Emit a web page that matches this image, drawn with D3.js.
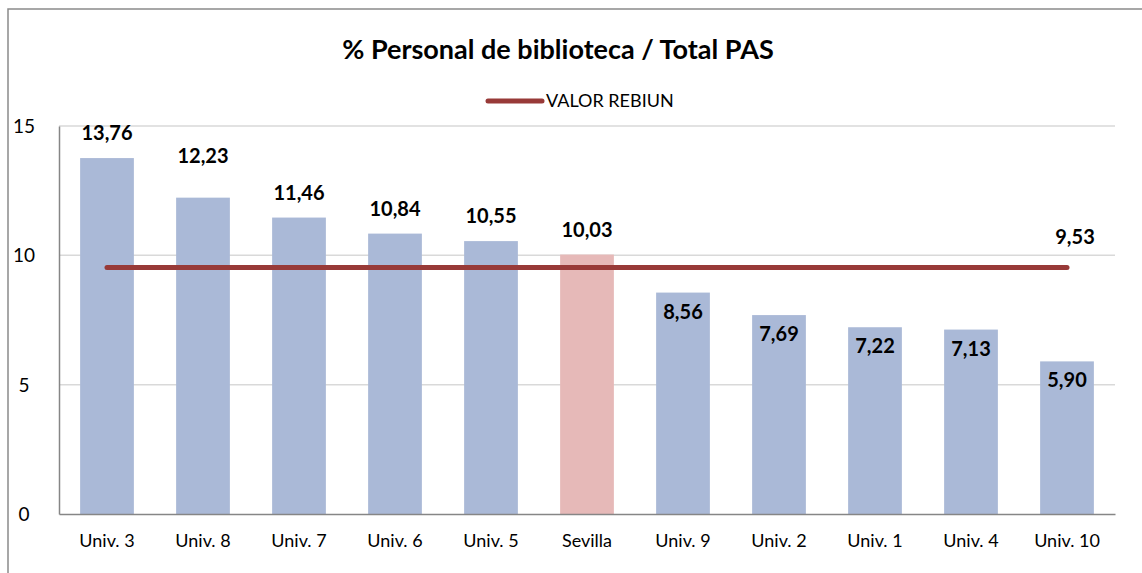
<!DOCTYPE html>
<html>
<head>
<meta charset="utf-8">
<script src="https://cdn.jsdelivr.net/npm/d3@7"></script>
<style>
  body { margin: 0; background: #fff; }
  text { font-family: Lato, "Open Sans", sans-serif; fill: #000; }
</style>
</head>
<body>
<script>
// data
var universidades = ["Univ. 3", "Univ. 8", "Univ. 7", "Univ. 6", "Univ. 5", "Sevilla",
                     "Univ. 9", "Univ. 2", "Univ. 1", "Univ. 4", "Univ. 10"];
var porcentajes = [13.76, 12.23, 11.46, 10.84, 10.55, 10.03, 8.56, 7.69, 7.22, 7.13, 5.90];
var valorRebiun = 9.53;
var yTicks = [0, 5, 10, 15];

var width = 1142;
var height = 573;
// plot area (note: "top" is taken by window.top)
var pLeft = 59, pRight = 1115, pTop = 126, pBottom = 514;

var svg = d3.select("body").append("svg")
    .attr("width", width)
    .attr("height", height);

// chart frame (cut off on the right and bottom)
svg.append("rect")
    .attr("x", 8).attr("y", 9)
    .attr("width", 1200).attr("height", 700)
    .attr("fill", "none")
    .attr("stroke", "#8a8a8a")
    .attr("stroke-width", 1.5);

var x = d3.scaleBand()
    .domain(universidades)
    .range([pLeft, pRight])
    .paddingInner(0.44)
    .paddingOuter(0.22);

var y = d3.scaleLinear()
    .domain([0, 15])
    .range([pBottom, pTop]);

// gridlines
svg.selectAll(".grid")
    .data(yTicks.filter(function(d) { return d > 0; }))
    .enter().append("line")
    .attr("x1", pLeft).attr("x2", pRight)
    .attr("y1", function(d) { return y(d); })
    .attr("y2", function(d) { return y(d); })
    .attr("stroke", "#d9d9d9")
    .attr("stroke-width", 1.5);

// bars
svg.selectAll(".bar")
    .data(porcentajes)
    .enter().append("rect")
    .attr("x", function(d, i) { return x(universidades[i]); })
    .attr("y", function(d) { return y(d); })
    .attr("width", x.bandwidth())
    .attr("height", function(d) { return pBottom - y(d); })
    .attr("fill", function(d, i) { return universidades[i] == "Sevilla" ? "#e6b9b8" : "#aab9d7"; });

// axes
var yAxis = d3.axisLeft(y).tickValues(yTicks).tickSize(0).tickPadding(14);
var gy = svg.append("g").attr("transform", "translate(" + pLeft + ",0)").call(yAxis);
gy.select(".domain").attr("stroke", "#868686").attr("stroke-width", 1.5);
gy.selectAll("text").attr("font-size", 19).attr("dy", "0.35em")
  .attr("x", -35).attr("text-anchor", "middle");

var xAxis = d3.axisBottom(x).tickSize(0).tickPadding(20);
var gx = svg.append("g").attr("transform", "translate(0," + pBottom + ")").call(xAxis);
gx.select(".domain").attr("stroke", "#868686").attr("stroke-width", 1.5);
gx.selectAll("text").attr("font-size", 18);

// REBIUN line
var cx = function(i) { return x(universidades[i]) + x.bandwidth() / 2; };
svg.append("line")
    .attr("x1", cx(0)).attr("x2", cx(universidades.length - 1))
    .attr("y1", y(valorRebiun)).attr("y2", y(valorRebiun))
    .attr("stroke", "#983a38")
    .attr("stroke-width", 5)
    .attr("stroke-linecap", "round");

svg.append("text")
    .attr("x", cx(universidades.length - 1) + 8)
    .attr("y", y(valorRebiun) - 23)
    .attr("text-anchor", "middle")
    .attr("font-size", 20).attr("font-weight", "bold")
    .text(d3.format(".2f")(valorRebiun).replace(".", ","));

// bar labels: above the bar when over the REBIUN line, inside otherwise
svg.selectAll(".lbl")
    .data(porcentajes)
    .enter().append("text")
    .attr("x", function(d, i) { return cx(i); })
    .attr("y", function(d, i) {
      if (d < valorRebiun) return y(d) + 26;
      return y(d) - (i == 1 ? 35 : 18);
    })
    .attr("text-anchor", "middle")
    .attr("font-size", 20).attr("font-weight", "bold")
    .text(function(d) { return d3.format(".2f")(d).replace(".", ","); });

// title
svg.append("text")
    .attr("x", 558).attr("y", 59)
    .attr("text-anchor", "middle")
    .attr("font-size", 27).attr("font-weight", "bold")
    .text("% Personal de biblioteca / Total PAS");

// legend
svg.append("line")
    .attr("x1", 488).attr("x2", 542)
    .attr("y1", 101).attr("y2", 101)
    .attr("stroke", "#983a38")
    .attr("stroke-width", 5)
    .attr("stroke-linecap", "round");
svg.append("text")
    .attr("x", 546).attr("y", 107)
    .attr("font-size", 18)
    .text("VALOR REBIUN");
</script>
</body>
</html>
